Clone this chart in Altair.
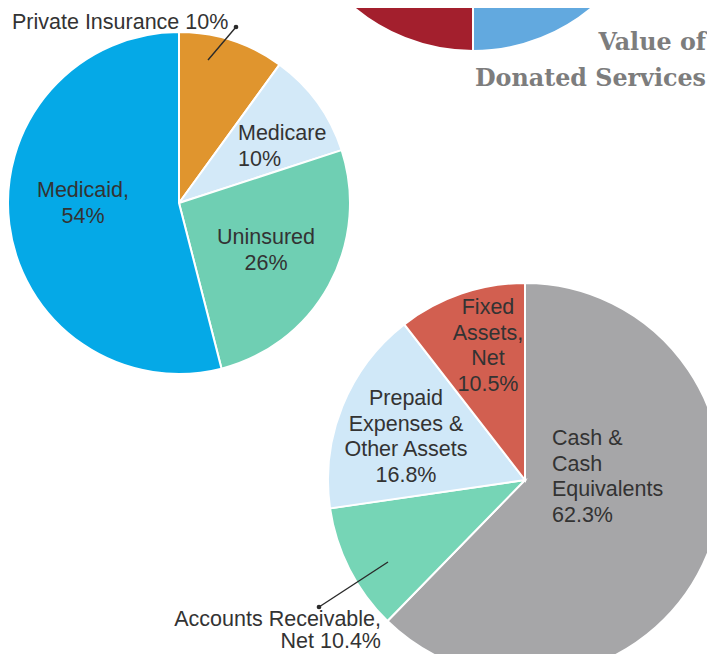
import altair as alt
import pandas as pd

W, H = 699, 646

# ---- data ----
donated_cats = ["Segment A", "Segment B"]
donated_vals = [50, 50]

payer_cats = ["Private Insurance", "Medicare", "Uninsured", "Medicaid"]
payer_vals = [10, 10, 26, 54]
payer_labels = ["Private Insurance 10%", "Medicare\n10%", "Uninsured\n26%", "Medicaid,\n54%"]

asset_cats = ["Cash & Cash Equivalents", "Accounts Receivable, Net",
              "Prepaid Expenses & Other Assets", "Fixed Assets, Net"]
asset_vals = [62.3, 10.4, 16.8, 10.5]
asset_labels = ["Cash &\nCash\nEquivalents\n62.3%", "Accounts Receivable,\nNet 10.4%",
                "Prepaid\nExpenses &\nOther Assets\n16.8%", "Fixed\nAssets,\nNet\n10.5%"]

title_lines = ["Value of", "Donated Services"]

# ---- styles / layout ----
donated_colors = ["#62a9df", "#a31f2d"]
payer_colors = ["#e0952e", "#d3e9f8", "#6fcfb3", "#05a9e7"]
asset_colors = ["#a6a6a8", "#76d5b6", "#d0e8f8", "#d25f50"]
TEXT = "#333333"
FONT = "Liberation Sans"
OFF = 8            # page margin
FS = 21.5
LH = 25.5


def P(v):
    """window pixels -> view pixels"""
    return v - OFF


def pie(cats, vals, colors, cx, cy, r):
    df = pd.DataFrame({"cat": cats, "val": vals, "ord": list(range(len(cats)))})
    return alt.Chart(df).mark_arc(stroke="white", strokeWidth=2, radius=r).encode(
        theta=alt.Theta("val:Q", stack=True),
        color=alt.Color("cat:N", scale=alt.Scale(domain=cats, range=colors), legend=None),
        order=alt.Order("ord:Q"),
        x=alt.value(P(cx)),
        y=alt.value(P(cy)),
    )


def labels(texts, xs, ys, align, lh=LH, font=FONT, fs=FS, color=TEXT, weight="normal"):
    # ys: first-line anchor of each label
    df = pd.DataFrame({"t": texts, "px": [P(x) for x in xs], "py": [P(y) for y in ys]})
    return alt.Chart(df).mark_text(
        align=align, baseline="middle", lineBreak="\n", lineHeight=lh,
        font=font, fontSize=fs, color=color, fontWeight=weight,
    ).encode(
        x=alt.X("px:Q", scale=None, axis=None),
        y=alt.Y("py:Q", scale=None, axis=None),
        text="t:N",
    )


top_pie = pie(donated_cats, donated_vals, donated_colors, 473, -134, 185)
left_pie = pie(payer_cats, payer_vals, payer_colors, 179, 203, 171)
bottom_pie = pie(asset_cats, asset_vals, asset_colors, 525, 480, 197)

lab_left_al = labels([payer_labels[0], payer_labels[1], asset_labels[0]],
                     [12, 238, 552], [23, 134, 439], "left")
lab_center = labels([payer_labels[3], payer_labels[2], asset_labels[3], asset_labels[2]],
                    [83, 266, 488, 406], [191, 238, 308, 399], "center")
lab_right = labels([asset_labels[1]], [381], [620], "right", lh=22)

title = labels(["\n".join(title_lines)], [706], [43], "right", lh=36,
               font="DejaVu Serif", fs=23.8, color="#7d7d7d", weight="bold")

lead_df = pd.DataFrame({
    "x1": [P(208), P(388)], "y1": [P(60), P(562)],
    "x2": [P(236), P(319)], "y2": [P(27), P(607)],
})
leaders = alt.Chart(lead_df).mark_rule(color="#2a2a2a", strokeWidth=1.4).encode(
    x=alt.X("x1:Q", scale=None, axis=None), y=alt.Y("y1:Q", scale=None, axis=None),
    x2="x2:Q", y2="y2:Q",
)
dots = alt.Chart(lead_df).mark_circle(color="#2a2a2a", size=22, opacity=1).encode(
    x=alt.X("x2:Q", scale=None, axis=None), y=alt.Y("y2:Q", scale=None, axis=None),
)

chart = alt.layer(
    top_pie, left_pie, bottom_pie, leaders, dots, lab_left_al, lab_center, lab_right, title
).resolve_scale(
    color="independent", theta="independent"
).properties(
    width=W, height=H, padding=0, autosize=alt.AutoSizeParams(type="none"),
    background="white",
).configure_view(strokeWidth=0)

chart.save("out.html", embed_options={"renderer": "svg", "actions": False})
